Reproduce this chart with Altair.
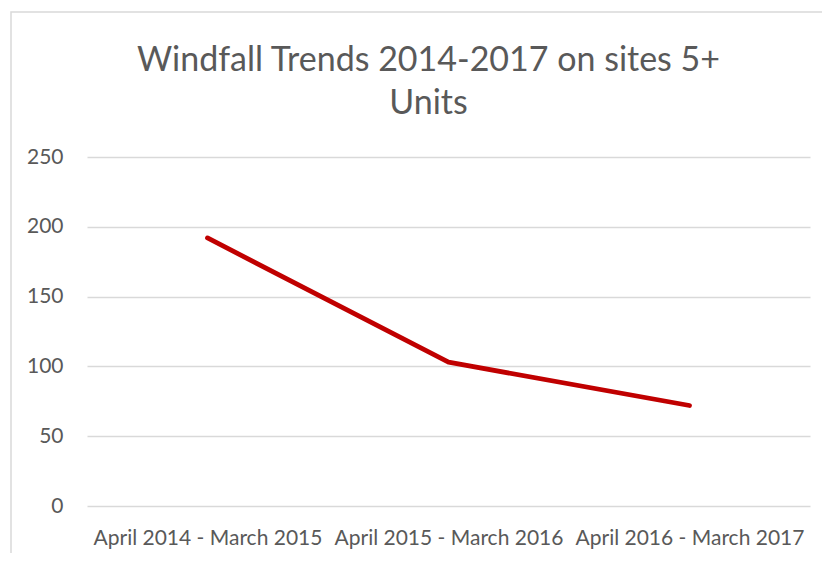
import altair as alt
import pandas as pd

periods = ["April 2014 - March 2015", "April 2015 - March 2016", "April 2016 - March 2017"]
windfall = [192, 103, 72]

df = pd.DataFrame({"period": periods, "value": windfall})

FONT = "Lato"
TXT = "#595959"

line = alt.Chart(df).mark_line(color="#C00000", strokeWidth=4.8, strokeCap="round", strokeJoin="round").encode(
    x=alt.X("period:N", sort=periods, title=None,
            scale=alt.Scale(type="point", padding=0.5),
            axis=alt.Axis(labelAngle=0, ticks=False, domain=False, grid=False, labelLimit=1000,
                          labelFont=FONT, labelFontSize=21, labelColor=TXT, labelPadding=21)),
    y=alt.Y("value:Q", title=None,
            scale=alt.Scale(domain=[0, 250]),
            axis=alt.Axis(values=[0, 50, 100, 150, 200, 250], ticks=False, domain=False,
                          gridColor="#d9d9d9", gridWidth=1.3,
                          labelFont=FONT, labelFontSize=21, labelColor=TXT, labelPadding=24)),
)

frame = alt.Chart(pd.DataFrame({"a": [0]})).mark_rect(fill=None, stroke="#d9d9d9", strokeWidth=1.5).encode(
    x=alt.value(-76), x2=alt.value(820), y=alt.value(-145), y2=alt.value(430)
)

chart = alt.layer(frame, line).properties(
    width=723, height=349,
    title=alt.Title(["Windfall Trends 2014-2017 on sites 5+", "Units"],
                    font=FONT, fontSize=34, fontWeight="normal", color=TXT,
                    anchor="middle", frame="group", lineHeight=43, offset=-110, dx=-20),
    autosize=alt.AutoSizeParams(type="none"),
    padding={"left": 79, "top": 149, "right": 12, "bottom": 47},
).configure(background="white").configure_view(strokeWidth=0, stroke="transparent")

chart.save("out.html", embed_options={"renderer": "svg", "actions": False})
